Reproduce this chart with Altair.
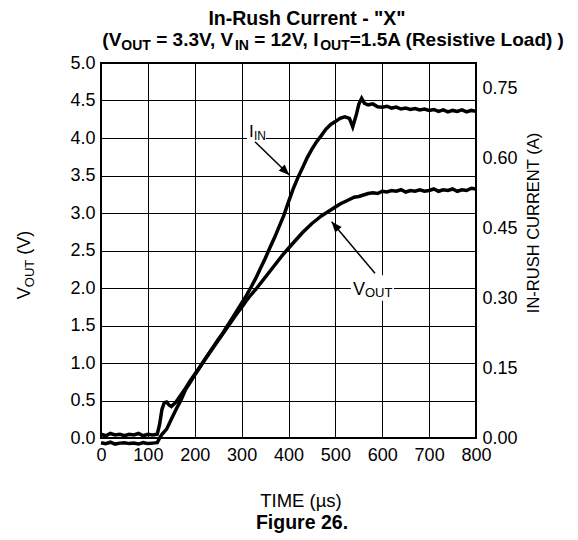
import math
import altair as alt
import pandas as pd

FONT = "Liberation Sans"

# ---------------- data ----------------
vout_t = [0, 10, 20, 30, 40, 50, 60, 70, 80, 90, 100, 110, 120, 125, 130, 135, 140, 145, 150,
          160, 170, 180, 190, 200, 210, 220, 230, 240, 250, 260, 270, 280, 290, 300, 310, 320,
          330, 340, 350, 360, 370, 380, 390, 400, 410, 420, 430, 440, 450, 460, 470, 480, 490,
          500, 510, 520, 530, 540, 550, 560, 570, 580, 590, 600, 610, 620, 630, 640, 650, 660,
          670, 680, 690, 700, 710, 720, 730, 740, 750, 760, 770, 780, 790, 800]
vout_v = [0.05, 0.03, 0.06, 0.04, 0.05, 0.03, 0.05, 0.04, 0.06, 0.03, 0.05, 0.04, 0.05, 0.18,
          0.38, 0.47, 0.48, 0.44, 0.42, 0.48, 0.57, 0.66, 0.76, 0.85, 0.94, 1.03, 1.12, 1.21,
          1.30, 1.39, 1.48, 1.57, 1.66, 1.74, 1.83, 1.91, 1.98, 2.06, 2.14, 2.22, 2.30, 2.38,
          2.46, 2.53, 2.60, 2.67, 2.74, 2.80, 2.86, 2.91, 2.96, 3.00, 3.04, 3.08, 3.12, 3.15,
          3.18, 3.21, 3.22, 3.24, 3.26, 3.27, 3.26, 3.29, 3.28, 3.30, 3.29, 3.31, 3.28, 3.30,
          3.29, 3.31, 3.29, 3.30, 3.32, 3.29, 3.31, 3.30, 3.32, 3.29, 3.31, 3.30, 3.33, 3.32]

iin_t = [0, 10, 20, 30, 40, 50, 60, 70, 80, 90, 100, 110, 120, 125, 130, 140, 150, 160, 170,
         180, 190, 200, 210, 220, 230, 240, 250, 260, 270, 280, 290, 300, 310, 320, 330, 340,
         350, 360, 370, 380, 390, 400, 410, 420, 430, 440, 450, 460, 470, 480, 490, 500, 510,
         520, 530, 537, 545, 550, 556, 562, 570, 580, 590, 600, 610, 620, 630, 640, 650, 660,
         670, 680, 690, 700, 710, 720, 730, 740, 750, 760, 770, 780, 790, 800]
iin_a = [-0.010, -0.012, -0.009, -0.013, -0.011, -0.010, -0.012, -0.011, -0.013, -0.010,
         -0.012, -0.011, -0.010, 0.000, 0.008, 0.019, 0.040, 0.061, 0.080, 0.103, 0.119,
         0.135, 0.150, 0.166, 0.181, 0.196, 0.211, 0.225, 0.241, 0.257, 0.273, 0.289, 0.305,
         0.323, 0.342, 0.363, 0.384, 0.407, 0.429, 0.453, 0.477, 0.506, 0.534, 0.558, 0.579,
         0.601, 0.619, 0.635, 0.648, 0.662, 0.672, 0.678, 0.685, 0.688, 0.685, 0.667, 0.694,
         0.715, 0.728, 0.717, 0.714, 0.716, 0.710, 0.709, 0.711, 0.707, 0.709, 0.705, 0.707,
         0.704, 0.706, 0.703, 0.705, 0.702, 0.704, 0.700, 0.703, 0.699, 0.702, 0.700, 0.703,
         0.699, 0.702, 0.700]

x_ticks = [0, 100, 200, 300, 400, 500, 600, 700, 800]
v_ticks = [0.0, 0.5, 1.0, 1.5, 2.0, 2.5, 3.0, 3.5, 4.0, 4.5, 5.0]
a_ticks = [0.00, 0.15, 0.30, 0.45, 0.60, 0.75]
A_MAX = 0.8036

# annotation arrows (time, volts) start -> tip
arrow_t1 = [328.5, 584.5]
arrow_v1 = [3.95, 2.196]
arrow_t2 = [401.7, 492.0]
arrow_v2 = [3.507, 2.884]

# ---------------- layout ----------------
W, H = 375, 375
PX_T = W / 800.0
PX_V = H / 5.0

XS = alt.Scale(domain=[0, 800], nice=False)
YS = alt.Scale(domain=[0, 5], nice=False)

BOLD = {' ': 278, '(': 333, ')': 333, '=': 584, '.': 278, ',': 278, 'A': 722,
        'V': 667, 'I': 278, 'O': 778, 'U': 722, 'T': 611, 'N': 722, 'R': 722, 'e': 556,
        's': 556, 'i': 278, 't': 333, 'v': 556, 'L': 611, 'o': 611, 'a': 556, 'd': 611}
for d in '0123456789':
    BOLD[d] = 556
REG = {' ': 278, '(': 333, ')': 333, 'V': 667, 'O': 778, 'U': 722, 'T': 611,
       'I': 278, 'N': 722}


def width(s, size, table):
    return sum(table.get(c, 556) for c in s) * size / 1000.0


one = pd.DataFrame({"a": [0]})


def txt(text, x, y, size, bold=False, angle=0, align="left"):
    return alt.Chart(one).mark_text(
        text=text, font=FONT, fontSize=size, fontWeight="bold" if bold else "normal",
        angle=angle, align=align, baseline="alphabetic", color="black"
    ).encode(x=alt.value(x), y=alt.value(y))


layers_text = []
# title line 1
layers_text.append(txt('In-Rush Current - "X"', 206, -38, 19.5, bold=True, align="center"))
# title line 2 with subscripts: (text, is_sub, space_before)
MAIN, SUB = 19, 14
segs = [("(V", False, 0), ("OUT", True, 0), ("= 3.3V, V", False, 1), ("IN", True, 0),
        ("= 12V, I", False, 1), ("OUT", True, 0), ("=1.5A (Resistive Load) )", False, 0)]
sp = 0.278 * MAIN
total = sum(width(s, SUB if sub else MAIN, BOLD) + g * sp for s, sub, g in segs)
cx = 232.5 - total / 2
for s, sub, g in segs:
    sz = SUB if sub else MAIN
    cx += g * sp
    layers_text.append(txt(s, cx, -17 + (4 if sub else 0), sz, bold=True))
    cx += width(s, sz, BOLD)

# bottom texts
layers_text.append(txt("TIME (µs)", 200, 444, 18.5, align="center"))
layers_text.append(txt("Figure 26.", 201, 466, 19.5, bold=True, align="center"))

# left axis title (rotated)
LM, LS = 18, 13
lsegs = [("V", False, 0), ("OUT", True, 0), ("(V)", False, 1)]
lsp = 0.278 * LM
ltot = sum(width(s, LS if sub else LM, REG) + g * lsp for s, sub, g in lsegs)
ly = 202 + ltot / 2
for s, sub, g in lsegs:
    sz = LS if sub else LM
    ly -= g * lsp
    layers_text.append(txt(s, -71 + (4 if sub else 0), ly, sz, angle=270))
    ly -= width(s, sz, REG)

# right axis title
layers_text.append(txt("IN-RUSH CURRENT (A)", 438, 160, 16.5, angle=270, align="center"))

# ---------------- data marks ----------------
vdf = pd.DataFrame({"t": vout_t, "v": vout_v})
idf = pd.DataFrame({"t": iin_t, "a": iin_a})

vout_line = alt.Chart(vdf).mark_line(color="black", strokeWidth=3.5).encode(
    x=alt.X("t:Q", scale=XS, axis=alt.Axis(values=x_ticks, title=None, grid=True,
                                            labelFlush=False, labelPadding=8, format="d")),
    y=alt.Y("v:Q", scale=YS, axis=alt.Axis(values=v_ticks, title=None, grid=True,
                                            orient="left", labelFlush=False, labelPadding=6,
                                            format=".1f")),
)

iin_line = alt.Chart(idf).mark_line(color="black", strokeWidth=3.5).encode(
    x=alt.X("t:Q", scale=XS, title=None),
    y=alt.Y("a:Q", scale=alt.Scale(domain=[0, A_MAX], nice=False),
            axis=alt.Axis(orient="right", values=a_ticks, title=None, grid=False,
                          labelFlush=False, labelPadding=6, format=".2f")),
)

# white boxes behind annotation labels
box_df = pd.DataFrame({"t1": [311.5, 533.0], "t2": [352.0, 625.0],
                       "v1": [3.95, 1.83], "v2": [4.21, 2.17]})
boxes = alt.Chart(box_df).mark_rect(color="white").encode(
    x=alt.X("t1:Q", scale=XS, title=None), x2="t2:Q",
    y=alt.Y("v1:Q", scale=YS, axis=None), y2="v2:Q",
)

adf = pd.DataFrame({"t1": arrow_t1, "v1": arrow_v1, "t2": arrow_t2, "v2": arrow_v2})
adf["ang"] = [
    (math.degrees(math.atan2((b - a) * PX_T, (d - c) * PX_V)) + 360) % 360
    for a, b, c, d in zip(arrow_t1, arrow_t2, arrow_v1, arrow_v2)
]
arrow_lines = alt.Chart(adf).mark_rule(color="black", strokeWidth=1.5).encode(
    x=alt.X("t1:Q", scale=XS, title=None), x2="t2:Q",
    y=alt.Y("v1:Q", scale=YS, axis=None), y2="v2:Q",
)
arrow_heads = alt.Chart(adf).mark_point(
    shape="M0,0L-0.4,1L0.4,1Z", filled=True, size=450, color="black", opacity=1, strokeWidth=0
).encode(
    x=alt.X("t2:Q", scale=XS, title=None),
    y=alt.Y("v2:Q", scale=YS, axis=None),
    angle=alt.Angle("ang:Q", scale=None),
)

# annotation labels in data coordinates
lab_df = pd.DataFrame({"t": [315.7, 537.6], "v": [4.013, 1.907]})


def lab(text, idx, size, dx, dy):
    return alt.Chart(lab_df.iloc[[idx]]).mark_text(
        text=text, font=FONT, fontSize=size, align="left", baseline="alphabetic",
        color="black", dx=dx, dy=dy
    ).encode(x=alt.X("t:Q", scale=XS, title=None), y=alt.Y("v:Q", scale=YS, axis=None))


labels = [
    lab("I", 0, 17, 0, 0), lab("IN", 0, 12, 5, 3),
    lab("V", 1, 18, 0, 0), lab("OUT", 1, 13, 12, 2),
]

chart = alt.layer(
    vout_line, iin_line, boxes, arrow_lines, arrow_heads, *labels, *layers_text
).resolve_scale(y="independent").properties(
    width=W, height=H,
    autosize=alt.AutoSizeParams(type="none"),
    padding={"left": 93, "top": 55, "right": 94, "bottom": 100},
    background="white",
).configure_view(stroke="black", strokeWidth=2).configure_axis(
    domain=False, ticks=False, labelFont=FONT, labelFontSize=18, labelColor="black",
    gridColor="black", gridOpacity=1, gridWidth=1,
)

chart.save("out.html", embed_options={"renderer": "svg", "actions": False})
